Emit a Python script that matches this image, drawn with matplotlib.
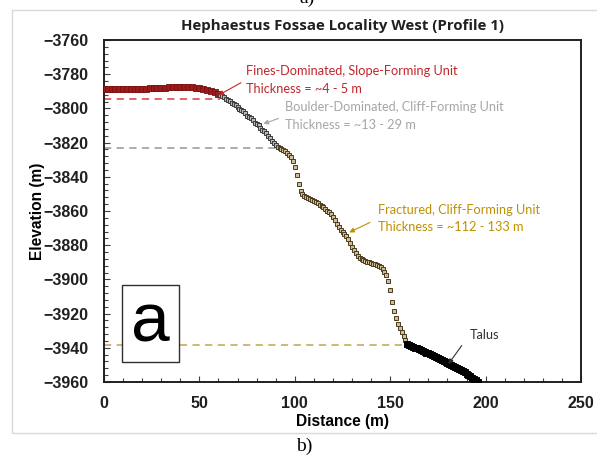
import matplotlib
matplotlib.use("Agg")
import matplotlib.pyplot as plt
from matplotlib.ticker import MultipleLocator
from matplotlib.patches import Rectangle

# ---------------- data ----------------
fines_x = [0, 2, 4, 6, 8, 10, 12, 14, 16, 18, 20, 22, 24, 26, 28, 30, 32, 34, 36, 38,
           40, 42, 44, 46, 48, 50, 52, 54, 56, 58, 60]
fines_y = [-3788.6, -3788.7, -3788.5, -3788.6, -3788.8, -3788.6, -3788.7, -3788.5, -3788.7,
           -3788.6, -3788.5, -3788.4, -3788.3, -3788.2, -3788.0, -3787.9, -3787.8, -3787.7,
           -3787.6, -3787.5, -3787.4, -3787.4, -3787.5, -3787.6, -3787.9, -3788.3, -3788.8,
           -3789.3, -3789.9, -3790.6, -3791.4]

boulder_x = [61, 62, 63, 64, 65, 66, 67, 68, 69, 70, 71, 72, 73, 74, 75, 76, 77, 78, 79, 80,
             81, 82, 83, 84, 85, 86, 87, 88, 89, 90, 91]
boulder_y = [-3792.0, -3792.8, -3793.6, -3794.3, -3795.0, -3795.8, -3796.8, -3797.4, -3798.0,
             -3799.2, -3800.4, -3801.0, -3801.6, -3802.8, -3804.2, -3805.0, -3805.6, -3806.8,
             -3808.3, -3809.0, -3809.8, -3811.2, -3812.6, -3813.4, -3814.5, -3816.0, -3817.5,
             -3818.8, -3820.0, -3821.2, -3822.3]

fractured_x = [92, 93, 94, 95, 96, 97, 98, 99, 100, 101, 102, 103, 104, 105, 106, 107, 108,
               109, 110, 111, 112, 113, 114, 115, 116, 117, 118, 119, 120, 121, 122, 123, 124,
               125, 126, 127, 128, 129, 130, 131, 132, 133, 134, 135, 136, 137, 138, 139, 140,
               141, 142, 143, 144, 145, 146, 147, 148, 149, 150, 151, 152, 153, 154, 155, 156,
               157, 158, 159]
fractured_y = [-3823.2, -3823.8, -3824.5, -3825.2, -3826.0, -3827.0, -3828.3, -3830.5, -3834.5,
               -3839.0, -3844.5, -3848.5, -3850.3, -3851.0, -3851.8, -3852.5, -3853.2, -3853.8,
               -3854.4, -3855.0, -3855.6, -3856.3, -3857.0, -3857.8, -3858.8, -3859.8, -3860.8,
               -3862.0, -3863.5, -3865.3, -3867.4, -3869.5, -3871.0, -3872.3, -3873.5, -3874.8,
               -3876.5, -3878.8, -3881.0, -3883.0, -3884.8, -3886.2, -3887.2, -3888.0, -3888.6,
               -3889.1, -3889.6, -3890.0, -3890.4, -3890.8, -3891.2, -3891.7, -3892.3, -3893.0,
               -3894.0, -3895.5, -3897.5, -3901.0, -3906.0, -3913.0, -3918.5, -3922.5, -3926.0,
               -3928.5, -3930.8, -3933.0, -3935.5, -3937.8]

talus_x = [159, 160, 161, 162, 163, 164, 165, 166, 167, 168, 169, 170, 171, 172, 173, 174, 175,
           176, 177, 178, 179, 180, 181, 182, 183, 184, 185, 186, 187, 188, 189, 190, 191, 192,
           193, 194, 195, 196]
talus_y = [-3937.8, -3938.6, -3939.0, -3939.5, -3939.9, -3940.3, -3940.8, -3941.3, -3941.8,
           -3942.3, -3942.8, -3943.3, -3943.9, -3944.4, -3944.9, -3945.4, -3946.0, -3946.5,
           -3947.0, -3947.6, -3948.1, -3948.7, -3949.3, -3949.9, -3950.5, -3951.1, -3951.7,
           -3952.4, -3953.0, -3953.7, -3954.4, -3955.1, -3955.8, -3956.6, -3957.4, -3958.2,
           -3959.0, -3959.8]

# unit boundaries (dashed lines): elevation and x extent
boundary_elev = [-3794.4, -3823.0, -3938.4]
boundary_xend = [61, 92, 159]

title = "Hephaestus Fossae Locality West (Profile 1)"
xlabel = "Distance (m)"
ylabel = "Elevation (m)"
fines_label = "Fines-Dominated, Slope-Forming Unit\nThickness = ~4 - 5 m"
boulder_label = "Boulder-Dominated, Cliff-Forming Unit\nThickness = ~13 - 29 m"
fractured_label = "Fractured, Cliff-Forming Unit\nThickness = ~112 - 133 m"
talus_label = "Talus"

# ---------------- figure ----------------
W, H = 597, 457
fig = plt.figure(figsize=(W / 100, H / 100), dpi=100)
fig.patch.set_facecolor("white")

# light frame around the chart area
fig.patches.append(Rectangle((12 / W, 1 - 433 / H), 1.0, (433 - 10) / H,
                             transform=fig.transFigure, fill=False,
                             edgecolor="#D9D9D9", linewidth=1.0))

ax = fig.add_axes([104 / W, 1 - 382 / H, (581 - 104) / W, (382 - 40) / H])

red = "#C0272D"
grey = "#A6A6A6"
gold = "#BF9000"
tan_fill = "#D2BE96"

# dashed boundaries
dash_cols = ["#E05A5A", "#A6A6A6", "#CBB26A"]
for e, xe, c in zip(boundary_elev, boundary_xend, dash_cols):
    ax.plot([0, xe], [e, e], ls=(0, (4, 3)), color=c, lw=1.3, zorder=2)

ms = 3.4
ax.plot(fines_x, fines_y, ls="none", marker="s", ms=ms + 0.6, mfc="#9B1B1B",
        mec="#7A1010", mew=0.6, zorder=3)
ax.plot(boulder_x, boulder_y, ls="none", marker="s", ms=ms, mfc="#B8B8B8",
        mec="#3A3A3A", mew=0.7, zorder=3)
ax.plot(fractured_x, fractured_y, ls="none", marker="s", ms=ms, mfc=tan_fill,
        mec="#4A3A20", mew=0.7, zorder=3)
ax.plot(talus_x, talus_y, ls="none", marker="s", ms=ms + 0.4, mfc="black",
        mec="black", mew=0.7, zorder=3)

ax.set_xlim(0, 250)
ax.set_ylim(-3960, -3760)
ax.xaxis.set_major_locator(MultipleLocator(50))
ax.xaxis.set_minor_locator(MultipleLocator(10))
ax.yaxis.set_major_locator(MultipleLocator(20))
ax.yaxis.set_minor_locator(MultipleLocator(4))
ax.tick_params(which="both", direction="in", color="#404040")
ax.tick_params(which="major", length=4, width=0.8)
ax.tick_params(which="minor", length=3, width=0.8)
ax.tick_params(axis="x", which="major", pad=10)
ax.tick_params(axis="y", which="major", pad=11)
for lab in ax.get_xticklabels() + ax.get_yticklabels():
    lab.set_fontfamily("Liberation Sans")
    lab.set_fontweight("bold")
    lab.set_fontsize(11.5)
    lab.set_color("#202020")
for s in ax.spines.values():
    s.set_linewidth(1.4)
    s.set_color("#202020")

ax.set_xlabel(xlabel, fontfamily="Liberation Sans", fontweight="bold",
              fontsize=11.2, labelpad=2)
ax.set_ylabel(ylabel, fontfamily="Liberation Sans", fontweight="bold",
              fontsize=11.2, labelpad=-1)
ax.set_title(title, fontfamily="Open Sans", fontweight="bold", fontsize=10.8,
             pad=7, color="#202020")

# annotations
tf = dict(fontfamily="Lato", fontsize=9.2, linespacing=1.55, va="center", ha="left")
ax.annotate(fines_label, xy=(60, -3792.3), xytext=(74.5, -3783.3),
            color=red, **tf,
            arrowprops=dict(arrowstyle="-|>", color=red, lw=0.8,
                            mutation_scale=7, shrinkA=2, shrinkB=0,
                            relpos=(0, 0.5)))
ax.annotate(boulder_label, xy=(83.5, -3809), xytext=(95.0, -3804.5),
            color=grey, **tf,
            arrowprops=dict(arrowstyle="-|>", color=grey, lw=0.8,
                            mutation_scale=7, shrinkA=3, shrinkB=0,
                            relpos=(0, 0.5)))
ax.annotate(fractured_label, xy=(128.5, -3872.5), xytext=(143.5, -3864.5),
            color=gold, **tf,
            arrowprops=dict(arrowstyle="-|>", color=gold, lw=0.8,
                            mutation_scale=7, shrinkA=4, shrinkB=0,
                            relpos=(0, 0.5)))
ax.annotate(talus_label, xy=(180.5, -3949.5), xytext=(191.5, -3932.5),
            color="#303030", **tf,
            arrowprops=dict(arrowstyle="-|>", color="#303030", lw=0.8,
                            mutation_scale=7, shrinkA=6, shrinkB=0,
                            relpos=(0, 0.5)))

# boxed "a" label
ax.add_patch(Rectangle((9.4, -3948.3), 29.9, 44.9, fc="white", ec="#303030",
                       lw=1.0, zorder=5))
ax.text(24.2, -3925.5, "a", fontfamily="Liberation Sans", fontsize=50,
        ha="center", va="center", color="black", zorder=6)

# panel letters outside axes
fig.text(0.515, 1 - 7 / H, "a)", fontfamily="Liberation Serif", fontsize=14,
         ha="center", va="bottom")
fig.text(0.51, 1 - 446 / H, "b)", fontfamily="Liberation Serif", fontsize=14,
         ha="center", va="center")

fig.savefig("out.png", dpi=100)
